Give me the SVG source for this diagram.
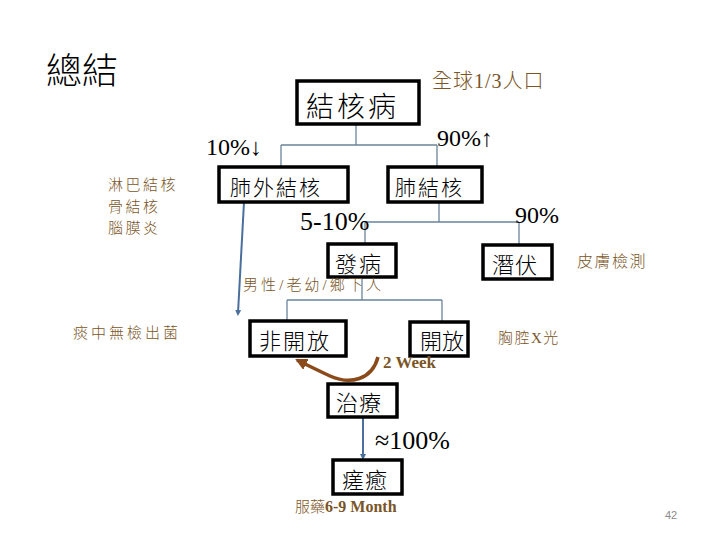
<svg xmlns="http://www.w3.org/2000/svg" width="720" height="540" viewBox="0 0 720 540">
<style>
.box{fill:#fff;stroke:#000;stroke-width:3.5}
.bt{font-family:"Liberation Serif","Noto Sans CJK TC",serif;fill:#000;font-weight:300}
.note{font-family:"Liberation Serif","Noto Sans CJK TC",serif;fill:#7a5526;font-size:15px;letter-spacing:2.5px;font-weight:300}
.num{font-family:"Liberation Serif","Noto Sans CJK TC",serif;fill:#000}
.tree{fill:none;stroke:#6a849c;stroke-width:1.3}
.arr{fill:none;stroke:#4a6f9c;stroke-width:2}
</style>
<defs>
<marker id="ah" markerWidth="6" markerHeight="6" refX="3" refY="3" orient="auto" markerUnits="userSpaceOnUse">
<path d="M0,0 L6,3 L0,6 Z" fill="#4a6f9c"/>
</marker>
<marker id="ahb" markerWidth="14" markerHeight="12" refX="10" refY="6" orient="auto" markerUnits="userSpaceOnUse">
<path d="M0,0 L12,6 L0,12 Z" fill="#8a4a1a"/>
</marker>
</defs>
<rect width="720" height="540" fill="#fff"/>
<text x="46" y="84" class="bt" font-size="36">總結</text>

<g id="connectors">
<path class="tree" d="M356,124 V145 M281,145 H437 M281,145 V167 M437,145 V167"/>
<path class="tree" d="M439,202 V222 M365,222 H519 M365,222 V244 M519,222 V245"/>
<path class="tree" d="M362,277 V300 M287,300 H442 M287,300 V322 M442,300 V322"/>
<path class="arr" d="M244,202 L238,313" marker-end="url(#ah)"/>
<path class="arr" d="M363,417 V457" marker-end="url(#ah)"/>
<path d="M378,357 C372,380 350,385 330,376 C315,369 305,364 297,360" fill="none" stroke="#8a4a1a" stroke-width="3.5" marker-end="url(#ahb)"/>
</g>

<g id="n-tb"><rect class="box" x="297" y="81" width="122" height="43"/><text class="bt" x="306" y="117" font-size="28" letter-spacing="3">結核病</text></g>
<g id="n-extra"><rect class="box" x="219" y="167" width="129" height="35"/><text class="bt" x="230" y="195" font-size="21" letter-spacing="2">肺外結核</text></g>
<g id="n-pulm"><rect class="box" x="388" y="167" width="94" height="35"/><text class="bt" x="395" y="195" font-size="21" letter-spacing="2">肺結核</text></g>
<g id="n-onset"><rect class="box" x="328" y="244" width="68" height="33"/><text class="bt" x="335" y="272" font-size="22" letter-spacing="2">發病</text></g>
<g id="n-latent"><rect class="box" x="483" y="245" width="69" height="34"/><text class="bt" x="492" y="273" font-size="22" letter-spacing="1">潛伏</text></g>
<g id="n-closed"><rect class="box" x="250" y="321" width="96" height="35"/><text class="bt" x="259" y="349" font-size="22" letter-spacing="2">非開放</text></g>
<g id="n-open"><rect class="box" x="410" y="322" width="58" height="34"/><text class="bt" x="420" y="349" font-size="22" letter-spacing="0">開放</text></g>
<g id="n-treat"><rect class="box" x="328" y="384" width="69" height="33"/><text class="bt" x="336" y="411" font-size="22" letter-spacing="1">治療</text></g>
<g id="n-cure"><rect class="box" x="333" y="460" width="69" height="34"/><text class="bt" x="342" y="488" font-size="22" letter-spacing="1">瘥癒</text></g>

<text class="note" x="432" y="88" style="font-size:20px;letter-spacing:1px">全球1/3人口</text>
<text class="num" x="206" y="155" font-size="24">10%↓</text>
<text class="num" x="437" y="146" font-size="24">90%↑</text>
<text class="note" x="108" y="190">淋巴結核</text>
<text class="note" x="108" y="212">骨結核</text>
<text class="note" x="108" y="233">腦膜炎</text>
<text class="num" x="300" y="230" font-size="26">5-10%</text>
<text class="num" x="515" y="223" font-size="24">90%</text>
<text class="note" x="577" y="267" style="font-size:16px;letter-spacing:1.5px">皮膚檢測</text>
<text class="note" x="243" y="290" textLength="138" lengthAdjust="spacing" style="letter-spacing:0">男性/老幼/鄉下人</text>
<text class="note" x="73" y="338" style="letter-spacing:3px">痰中無檢出菌</text>
<text class="note" x="498" y="343" style="letter-spacing:1.5px">胸腔X光</text>
<text x="383" y="368" font-family="Liberation Serif,serif" font-size="17" font-weight="bold" fill="#7a5526">2 Week</text>
<text class="num" x="375" y="449" font-size="26">≈100%</text>
<text x="295" y="512" font-family="Liberation Serif,'Noto Sans CJK TC',serif" font-size="15" font-weight="300" fill="#7a5526">服藥<tspan font-weight="bold" font-size="16">6-9 Month</tspan></text>
<text x="665" y="519" font-family="Liberation Sans,sans-serif" font-size="11" fill="#8a8a8a">42</text>
</svg>
